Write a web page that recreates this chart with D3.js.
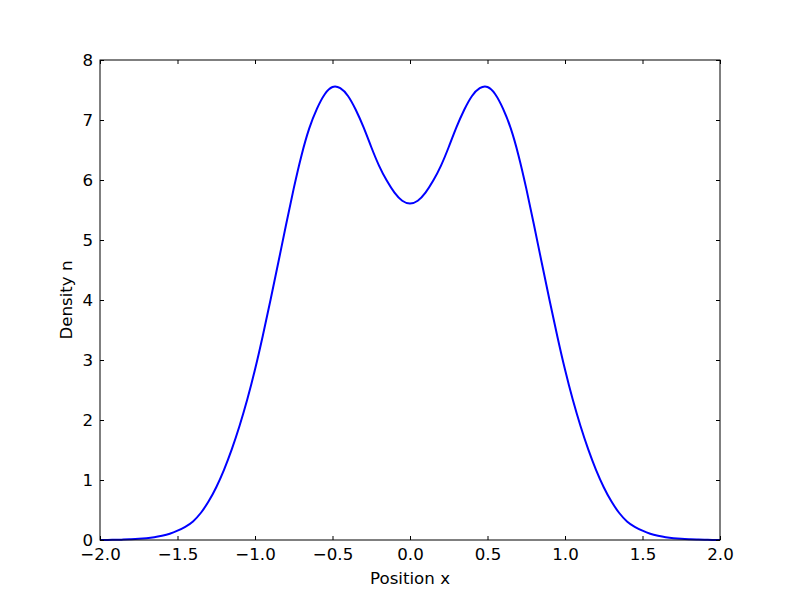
<!DOCTYPE html>
<html><head><meta charset="utf-8">
<script src="https://cdn.jsdelivr.net/npm/d3@7"></script>
<style>body{margin:0;background:#fff}svg text{font-family:"DejaVu Sans",sans-serif;}</style>
</head><body><svg id="c" width="800" height="600"></svg>
<script>
// x positions: -2.0 to 2.0 in steps of 0.05 (written out)
const xValues = [-2.0,-1.95,-1.9,-1.85,-1.8,-1.75,-1.7,-1.65,-1.6,-1.55,-1.5,-1.45,-1.4,-1.35,-1.3,-1.25,-1.2,-1.15,-1.1,-1.05,-1.0,-0.95,-0.9,-0.85,-0.8,-0.75,-0.7,-0.65,-0.6,-0.55,-0.5,-0.45,-0.4,-0.35,-0.3,-0.25,-0.2,-0.15,-0.1,-0.05,0.0,0.05,0.1,0.15,0.2,0.25,0.3,0.35,0.4,0.45,0.5,0.55,0.6,0.65,0.7,0.75,0.8,0.85,0.9,0.95,1.0,1.05,1.1,1.15,1.2,1.25,1.3,1.35,1.4,1.45,1.5,1.55,1.6,1.65,1.7,1.75,1.8,1.85,1.9,1.95,2.0];
const densityValues = [0.001,0.002,0.004,0.007,0.012,0.019,0.03,0.047,0.072,0.105,0.155,0.22,0.31,0.45,0.64,0.88,1.17,1.51,1.90,2.34,2.84,3.40,4.00,4.62,5.25,5.86,6.41,6.86,7.19,7.43,7.55,7.53,7.40,7.17,6.88,6.55,6.24,5.99,5.79,5.655,5.61,5.655,5.79,5.99,6.24,6.55,6.88,7.17,7.40,7.53,7.55,7.43,7.19,6.86,6.41,5.86,5.25,4.62,4.00,3.40,2.84,2.34,1.90,1.51,1.17,0.88,0.64,0.45,0.31,0.22,0.155,0.105,0.072,0.047,0.03,0.019,0.012,0.007,0.004,0.002,0.001];
const xTicks = [-2.0,-1.5,-1.0,-0.5,0.0,0.5,1.0,1.5,2.0];
const yTicks = [0,1,2,3,4,5,6,7,8];
const xLabel = "Position x", yLabel = "Density n";

const L=100,R=720,T=60,B=540;
const svg=d3.select("#c");
const x=d3.scaleLinear().domain([-2,2]).range([L,R]);
const y=d3.scaleLinear().domain([0,8]).range([B,T]);
const fs="16.667px";
const fmtX=d => (d<0?"\u2212":"")+Math.abs(d).toFixed(1);

// curve
const data=xValues.map((v,i)=>[v,densityValues[i]]);
svg.append("path").datum(data)
  .attr("d",d3.line().x(d=>x(d[0])).y(d=>y(d[1])).curve(d3.curveNatural))
  .attr("fill","none").attr("stroke","#0000ff").attr("stroke-width",2);

// axes with inward ticks on all sides
const gB=svg.append("g").attr("transform",`translate(0,${B})`)
  .call(d3.axisBottom(x).tickValues(xTicks).tickSizeInner(-4).tickSizeOuter(0).tickPadding(10).tickFormat(fmtX));
const gT=svg.append("g").attr("transform",`translate(0,${T})`)
  .call(d3.axisTop(x).tickValues(xTicks).tickSizeInner(-4).tickSizeOuter(0).tickFormat(""));
const gL=svg.append("g").attr("transform",`translate(${L},0)`)
  .call(d3.axisLeft(y).tickValues(yTicks).tickSizeInner(-4).tickSizeOuter(0).tickPadding(10).tickFormat(d3.format("d")));
const gR=svg.append("g").attr("transform",`translate(${R},0)`)
  .call(d3.axisRight(y).tickValues(yTicks).tickSizeInner(-4).tickSizeOuter(0).tickFormat(""));
[gB,gT,gL,gR].forEach(g=>{
  g.select(".domain").remove();
  g.selectAll("line").attr("stroke","#000").attr("stroke-width",1);
  g.selectAll("text").attr("font-size",fs).attr("fill","#000").attr("font-family","DejaVu Sans");
});
gB.selectAll("text").attr("dy","0.71em").attr("y",8);
gL.selectAll("text").attr("x",-7);

svg.append("rect").attr("x",L).attr("y",T).attr("width",R-L).attr("height",B-T)
  .attr("fill","none").attr("stroke","#000").attr("stroke-width",1);

svg.append("text").attr("x",(L+R)/2).attr("y",584).attr("text-anchor","middle")
  .attr("font-size",fs).text(xLabel);
svg.append("text").attr("transform",`translate(72,${(T+B)/2}) rotate(-90)`).attr("text-anchor","middle")
  .attr("font-size",fs).text(yLabel);
</script></body></html>
